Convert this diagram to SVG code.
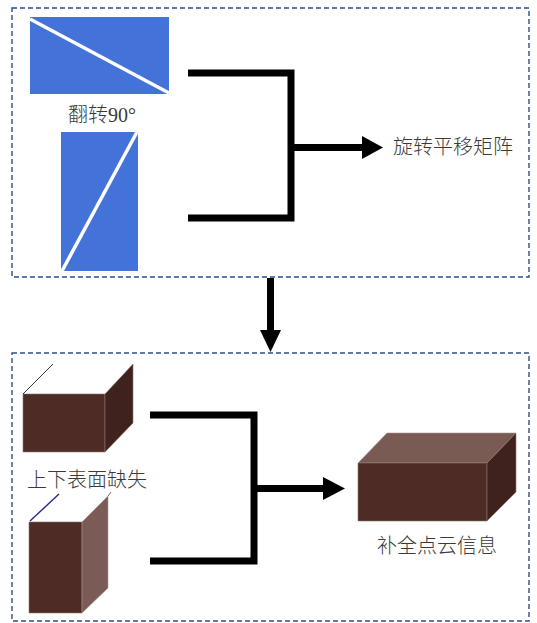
<svg xmlns="http://www.w3.org/2000/svg" width="537" height="623" viewBox="0 0 537 623">
  <style>
    .frame { fill: none; stroke: #2e4c8c; stroke-width: 1.4; stroke-dasharray: 5 3; }
    .conn { fill: none; stroke: #000; stroke-width: 7; stroke-linejoin: miter; stroke-linecap: butt; }
    .head { fill: #000; }
    .plate { fill: #4373d9; }
    .cut { stroke: #fff; stroke-width: 3.5; }
    .label { font-family: "Liberation Serif", "Noto Sans CJK SC", serif; font-size: 20px; font-weight: 300; fill: #3a3a3a; }
    .front { fill: #4e2c25; stroke: #8a7570; stroke-width: 0.6; }
    .side-dark { fill: #3f221d; stroke: #8a7570; stroke-width: 0.6; }
    .side-light { fill: #7a5b55; stroke: #a89894; stroke-width: 0.6; }
    .top-light { fill: #7a5b53; stroke: #a89894; stroke-width: 0.6; }
  </style>

  <!-- dashed panels -->
  <rect class="frame" x="12" y="8" width="517" height="269"/>
  <rect class="frame" x="12" y="353" width="517" height="268"/>

  <!-- upper panel: two rotated plates -->
  <g id="plate-wide">
    <rect class="plate" x="30" y="17" width="139" height="77"/>
    <line class="cut" x1="30" y1="19" x2="169" y2="93"/>
  </g>
  <g id="label-flip">
    <text class="label" x="102" y="122" text-anchor="middle">翻转90°</text>
  </g>
  <g id="plate-tall">
    <rect class="plate" x="61" y="132" width="77" height="139"/>
    <line class="cut" x1="62" y1="271" x2="137" y2="132"/>
  </g>
  <g id="label-matrix">
    <text class="label" x="393" y="154">旋转平移矩阵</text>
  </g>

  <!-- lower panel: incomplete boxes and completed box -->
  <g id="box-open-top">
    <polygon class="front" points="23,394 105,394 105,452 23,452"/>
    <polygon class="side-dark" points="105,394 133,364 133,423 105,452"/>
    <line x1="23" y1="394" x2="53" y2="364" stroke="#222" stroke-width="0.9"/>
  </g>
  <g id="label-missing">
    <text class="label" x="27" y="487">上下表面缺失</text>
  </g>
  <g id="box-tall">
    <polygon class="front" points="29,522 82,522 82,613 29,613"/>
    <polygon class="side-light" points="82,522 108,496 108,588 82,613"/>
    <line x1="30" y1="521" x2="59" y2="494" stroke="#2a2a86" stroke-width="1.4"/>
    <line x1="108" y1="496" x2="111" y2="492" stroke="#444" stroke-width="0.8"/>
  </g>
  <g id="box-complete">
    <polygon class="top-light" points="358,463 387,433 516,433 487,463"/>
    <polygon class="front" points="358,463 487,463 487,521 358,521"/>
    <polygon class="side-dark" points="487,463 516,433 516,492 487,521"/>
  </g>
  <g id="label-complete">
    <text class="label" x="377" y="553">补全点云信息</text>
  </g>

  <!-- connectors -->
  <g id="connectors">
    <path class="conn" d="M188,73 H291 V218 H188"/>
    <path class="conn" d="M291,147.5 H364"/>
    <polygon class="head" points="362,136 383,147.5 362,159"/>

    <path class="conn" d="M270.5,278 V332"/>
    <polygon class="head" points="260,330 281,330 270.5,352"/>

    <path class="conn" d="M150,415 H254 V561 H150"/>
    <path class="conn" d="M254,488.5 H325"/>
    <polygon class="head" points="323,477 345,488.5 323,500"/>
  </g>
</svg>
